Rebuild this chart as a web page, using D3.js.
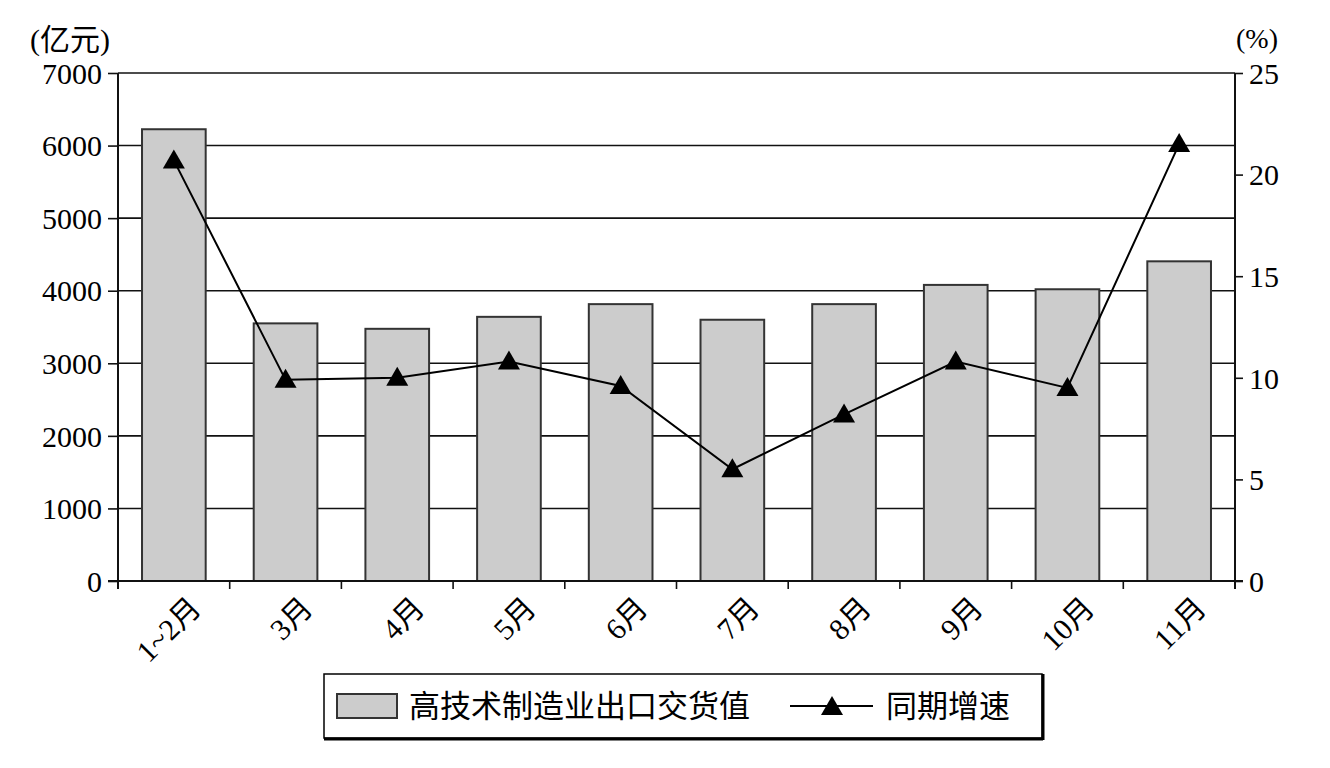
<!DOCTYPE html>
<html><head><meta charset="utf-8">
<script src="https://cdn.jsdelivr.net/npm/d3@7"></script>
<style>
body{margin:0;background:#fff;}
svg text{fill:#000;}
</style></head>
<body><svg id="c" width="1330" height="768"></svg>
<script>
const categories = ["1~2月","3月","4月","5月","6月","7月","8月","9月","10月","11月"];
const exportValues = [6225, 3550, 3475, 3640, 3815, 3600, 3815, 4080, 4020, 4405];
const growthRates = [20.7, 9.9, 10.0, 10.8, 9.6, 5.5, 8.2, 10.8, 9.5, 21.5];
const leftTicks = [0,1000,2000,3000,4000,5000,6000,7000];
const rightTicks = [0,5,10,15,20,25];
const leftUnit = "(亿元)";
const rightUnit = "(%)";
const legendBar = "高技术制造业出口交货值";
const legendLine = "同期增速";

const FF = "'Liberation Serif', 'DejaVu Serif', 'Noto Sans CJK SC', serif";
const svg = d3.select("#c");
const L = 118, R = 1235, T = 73, B = 581;
const x = d3.scaleBand().domain(categories).range([L, R]).paddingInner(0.43).paddingOuter(0.215);
const xb = d3.scaleBand().domain(categories).range([L, R]);
const yL = d3.scaleLinear().domain([0, 7000]).range([B, T]);
const yR = d3.scaleLinear().domain([0, 25]).range([B, T]);

// gridlines
svg.append("g").selectAll("line").data(leftTicks.filter(d => d > 0)).join("line")
  .attr("x1", L).attr("x2", R).attr("y1", d => yL(d)).attr("y2", d => yL(d))
  .attr("stroke", "#111").attr("stroke-width", 1.6);

// bars
svg.append("g").selectAll("rect").data(exportValues).join("rect")
  .attr("x", (d, i) => x(categories[i])).attr("width", x.bandwidth())
  .attr("y", d => yL(d)).attr("height", d => B - yL(d))
  .attr("fill", "#cccccc").attr("stroke", "#333").attr("stroke-width", 2);

// left axis
const axL = svg.append("g").attr("transform", `translate(${L},0)`)
  .call(d3.axisLeft(yL).tickValues(leftTicks).tickSize(10).tickPadding(6).tickFormat(d3.format("d")));
axL.attr("font-family", null);
axL.select(".domain").remove();
axL.append("line").attr("x1", 0).attr("x2", 0).attr("y1", T).attr("y2", B + 8).attr("stroke", "#111").attr("stroke-width", 2);
axL.selectAll(".tick line").attr("stroke", "#111").attr("stroke-width", 1.6);
axL.selectAll(".tick text").style("font-family", FF).style("font-size", "30px").attr("dy", "0.34em");

// right axis
const axR = svg.append("g").attr("transform", `translate(${R},0)`)
  .call(d3.axisRight(yR).tickValues(rightTicks).tickSize(8).tickPadding(6));
axR.attr("font-family", null);
axR.select(".domain").remove();
axR.append("line").attr("x1", 0).attr("x2", 0).attr("y1", T).attr("y2", B + 8).attr("stroke", "#111").attr("stroke-width", 2);
axR.selectAll(".tick line").attr("stroke", "#111").attr("stroke-width", 1.6);
axR.selectAll(".tick text").style("font-family", FF).style("font-size", "30px").attr("dy", "0.34em");

// bottom axis
svg.append("line").attr("x1", L - 10).attr("x2", R + 8).attr("y1", B).attr("y2", B).attr("stroke", "#111").attr("stroke-width", 2);
svg.append("g").selectAll("line").data(categories.slice(1)).join("line")
  .attr("x1", d => xb(d)).attr("x2", d => xb(d)).attr("y1", B).attr("y2", B + 8)
  .attr("stroke", "#111").attr("stroke-width", 1.6);
svg.append("g").selectAll("text").data(categories).join("text")
  .attr("transform", d => `translate(${xb(d) + xb.bandwidth() / 2 + 14},${B + 14}) rotate(-45)`)
  .attr("text-anchor", "end").attr("dy", "0.7em")
  .style("font-family", FF).style("font-size", "30px").text(d => d);

// units
svg.append("text").attr("x", 30).attr("y", 50).style("font-family", FF).style("font-size", "30px").text(leftUnit);
svg.append("text").attr("x", 1236).attr("y", 48).style("font-family", FF).style("font-size", "28px").text(rightUnit);

// line
const cx = (d, i) => xb(categories[i]) + xb.bandwidth() / 2;
svg.append("path").datum(growthRates)
  .attr("d", d3.line().x(cx).y(d => yR(d)))
  .attr("fill", "none").attr("stroke", "#000").attr("stroke-width", 2);
svg.append("g").selectAll("path").data(growthRates).join("path")
  .attr("d", (d, i) => {
    const px = cx(d, i), py = yR(d);
    return `M${px - 11},${py + 8}L${px},${py - 11}L${px + 11},${py + 8}Z`;
  }).attr("fill", "#000");

// legend
const lg = svg.append("g");
lg.append("rect").attr("x", 324).attr("y", 674).attr("width", 718).attr("height", 64)
  .attr("fill", "#fff").attr("stroke", "#000").attr("stroke-width", 1.5);
lg.append("line").attr("x1", 324).attr("x2", 1043).attr("y1", 739).attr("y2", 739).attr("stroke", "#000").attr("stroke-width", 3);
lg.append("line").attr("x1", 1043).attr("x2", 1043).attr("y1", 674).attr("y2", 740).attr("stroke", "#000").attr("stroke-width", 3);
lg.append("rect").attr("x", 337).attr("y", 694).attr("width", 60).attr("height", 24)
  .attr("fill", "#cccccc").attr("stroke", "#333").attr("stroke-width", 2);
lg.append("text").attr("x", 409).attr("y", 717).style("font-family", FF).style("font-size", "31px").text(legendBar);
lg.append("line").attr("x1", 790).attr("x2", 873).attr("y1", 706).attr("y2", 706).attr("stroke", "#000").attr("stroke-width", 2);
lg.append("path").attr("d", `M${821},${715}L${832},${696}L${843},${715}Z`).attr("fill", "#000");
lg.append("text").attr("x", 886).attr("y", 717).style("font-family", FF).style("font-size", "31px").text(legendLine);
</script></body></html>
